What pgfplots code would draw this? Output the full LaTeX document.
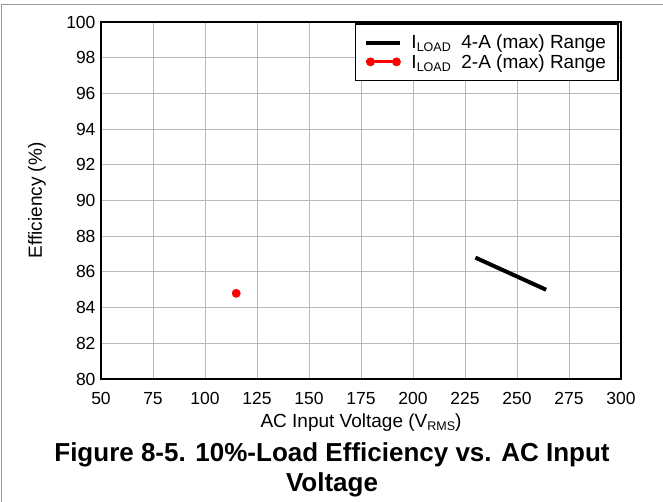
\documentclass[border=0pt]{standalone}
\usepackage{pgfplots}
\pgfplotsset{compat=1.18}
\usepackage{fontspec}
\setmainfont{Liberation Sans}
\newcommand{\sub}[1]{\raisebox{-0.3ex}{\fontsize{12.5}{13}\selectfont #1}}
\begin{document}
\begin{tikzpicture}[x=1pt,y=1pt]
\useasboundingbox (-101,-123) rectangle (562,379);
\draw[gray!80, line width=0.8pt] (-100,-123) -- (-100,375) -- (562,375);
\begin{axis}[
  at={(0,0)}, anchor=south west,
  scale only axis, width=520pt, height=357pt,
  xmin=50, xmax=300, ymin=80, ymax=100,
  xtick={50,75,...,300}, ytick={80,82,...,100},
  grid=major,
  major grid style={gray!55, line width=0.8pt},
  axis line style={black, line width=1.8pt},
  major tick length=0pt,
  tick label style={font=\fontsize{17.5}{18}\selectfont},
  /pgf/number format/assume math mode=true,
  yticklabel style={xshift=-2pt},
  xticklabel style={yshift=-10pt},
  xlabel={AC Input Voltage (V\sub{RMS})},
  ylabel={Efficiency (\%)},
  label style={font=\fontsize{19}{20}\selectfont},
  xlabel style={at={(axis description cs:0.5,-0.137)}, anchor=base},
  ylabel style={at={(axis description cs:-0.123,0.5)}, anchor=center},
  legend style={at={(rel axis cs:0.996,0.997)}, anchor=north east,
    draw=black, line width=1.8pt, font=\fontsize{19}{20}\selectfont,
    inner xsep=9pt, inner ysep=11pt, row sep=4pt, column sep=0pt,
    nodes={inner xsep=3pt, inner ysep=0pt}},
  legend cell align=left,
]
\addplot[black, line width=4pt,
  legend image code/.code={
    \draw[black, line width=4pt] (0pt,0pt) -- (34pt,0pt);}
  ] coordinates {(230,86.8) (264,85.0)};
\addlegendentry{\hspace{6pt}I\sub{LOAD}\ \ 4-A (max) Range}
\addplot[red, only marks, mark=*, mark size=4.2pt,
  legend image code/.code={
    \draw[red, line width=3pt] (0pt,0pt) -- (34pt,0pt);
    \fill[red] (4pt,0pt) circle (3.5pt);
    \fill[red] (30pt,0pt) circle (3.5pt);}
  ] coordinates {(115,84.8)};
\addlegendentry{\hspace{6pt}I\sub{LOAD}\ \ 2-A (max) Range}
\end{axis}
\node[font=\bfseries\fontsize{26}{30}\selectfont, anchor=base] at (231,-83)
  {Figure 8-5. 10\%-Load Efficiency vs. AC Input};
\node[font=\bfseries\fontsize{26}{30}\selectfont, anchor=base] at (231,-113)
  {Voltage};
\end{tikzpicture}
\end{document}
